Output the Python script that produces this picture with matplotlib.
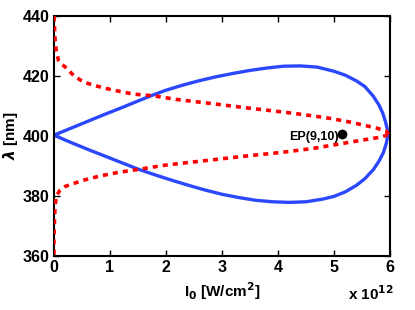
import matplotlib
matplotlib.use('agg')
import matplotlib.pyplot as plt

# intensity in units of 1e12 W/cm^2, wavelength in nm
# blue loop: lower branch left->right, then upper branch right->left
blue_x = [0.0, 0.3, 0.6, 0.9, 1.2, 1.5, 1.8, 2.1, 2.4, 2.7, 3.0, 3.3, 3.6, 3.9, 4.2, 4.5,
          4.8, 5.0, 5.2, 5.4, 5.55, 5.7, 5.8, 5.88, 5.93, 5.96,
          5.95, 5.92, 5.87, 5.8, 5.7, 5.55, 5.4, 5.2, 5.0, 4.7, 4.4, 4.1, 3.8, 3.5, 3.2,
          2.9, 2.6, 2.3, 2.0, 1.74, 1.5, 1.2, 0.9, 0.6, 0.3, 0.0]
blue_y = [400.3, 397.9, 395.6, 393.4, 391.2, 389.0, 387.1, 385.3, 383.6, 382.0, 380.6, 379.5,
          378.6, 378.1, 377.9, 378.1, 379.0, 379.9, 381.4, 383.6, 385.8, 388.8, 391.6, 394.5,
          397.4, 400.3,
          402.3, 404.6, 407.6, 410.4, 413.3, 416.5, 418.4, 420.3, 421.6, 423.0, 423.4, 423.3,
          422.7, 421.9, 420.9, 419.8, 418.5, 417.0, 415.3, 413.5, 411.7, 409.4, 407.2, 404.9,
          402.6, 400.3]

red_up_x = [0.0, 0.01, 0.02, 0.04, 0.08, 0.15, 0.23, 0.35, 0.52, 0.7, 0.9, 1.12, 1.42, 1.79,
            2.19, 2.79, 3.4, 4.1, 4.6, 4.93, 5.25, 5.52, 5.75, 5.93, 5.97]
red_up_y = [440.0, 436.0, 432.0, 428.5, 425.3, 423.8, 422.6, 420.2, 418.1, 417.0, 416.0, 415.1,
            414.0, 413.4, 412.2, 410.9, 409.5, 408.0, 406.8, 405.9, 404.8, 403.7, 402.7, 401.7,
            400.5]
red_lo_x = [0.0, 0.0, 0.01, 0.02, 0.05, 0.11, 0.2, 0.35, 0.55, 0.82, 1.15, 1.54, 1.98, 2.4,
            2.79, 3.4, 4.08, 4.63, 5.23, 5.55, 5.82, 5.96]
red_lo_y = [360.5, 366.0, 372.0, 377.0, 380.3, 382.0, 383.2, 384.2, 385.4, 386.7, 387.9, 389.0,
            390.3, 391.2, 392.0, 393.3, 394.6, 395.9, 397.8, 398.8, 399.6, 400.4]

ep_x, ep_y = 5.15, 400.6
ep_label = 'EP(9,10)'

xticks = [0, 1, 2, 3, 4, 5, 6]
yticks = [360, 380, 400, 420, 440]

plt.rcParams['font.family'] = ['Liberation Sans', 'DejaVu Sans']
plt.rcParams['font.weight'] = 'bold'

fig = plt.figure(figsize=(4.15, 3.10), dpi=100)
ax = fig.add_axes([0.130, 0.174, 0.810, 0.774])

ax.plot(blue_x, blue_y, color='#2b48ff', lw=2.4, solid_joinstyle='round', zorder=2)
ax.plot(red_up_x, red_up_y, color='#ff0000', lw=2.6, ls=(0, (1.4, 1.4)), zorder=3)
ax.plot(red_lo_x, red_lo_y, color='#ff0000', lw=2.6, ls=(0, (1.4, 1.4)), zorder=3)
ax.plot([ep_x], [ep_y], 'o', color='k', ms=6, zorder=4)
ax.text(ep_x - 0.07, ep_y - 0.9, ep_label, ha='right', va='center', fontsize=9, fontweight='bold')

ax.set_xlim(0, 6)
ax.set_ylim(360, 440)
ax.set_xticks(xticks)
ax.set_yticks(yticks)
ax.tick_params(direction='in', top=True, right=True, length=4, width=1.0, labelsize=11.5, pad=3)
for lab in ax.get_xticklabels() + ax.get_yticklabels():
    lab.set_fontweight('bold')
for sp in ax.spines.values():
    sp.set_linewidth(1.5)

ax.set_xlabel('I$_\\mathbf{0}$ [W/cm$^\\mathbf{2}$]', fontsize=11, fontweight='bold', labelpad=4)
ax.set_ylabel('$\\lambda$ [nm]', fontsize=11, fontweight='bold', labelpad=2)
fig.text(0.839, 0.032, 'x 10$^{\\mathbf{12}}$', ha='left', va='baseline', fontsize=11, fontweight='bold')

fig.savefig('out.png', dpi=100)
